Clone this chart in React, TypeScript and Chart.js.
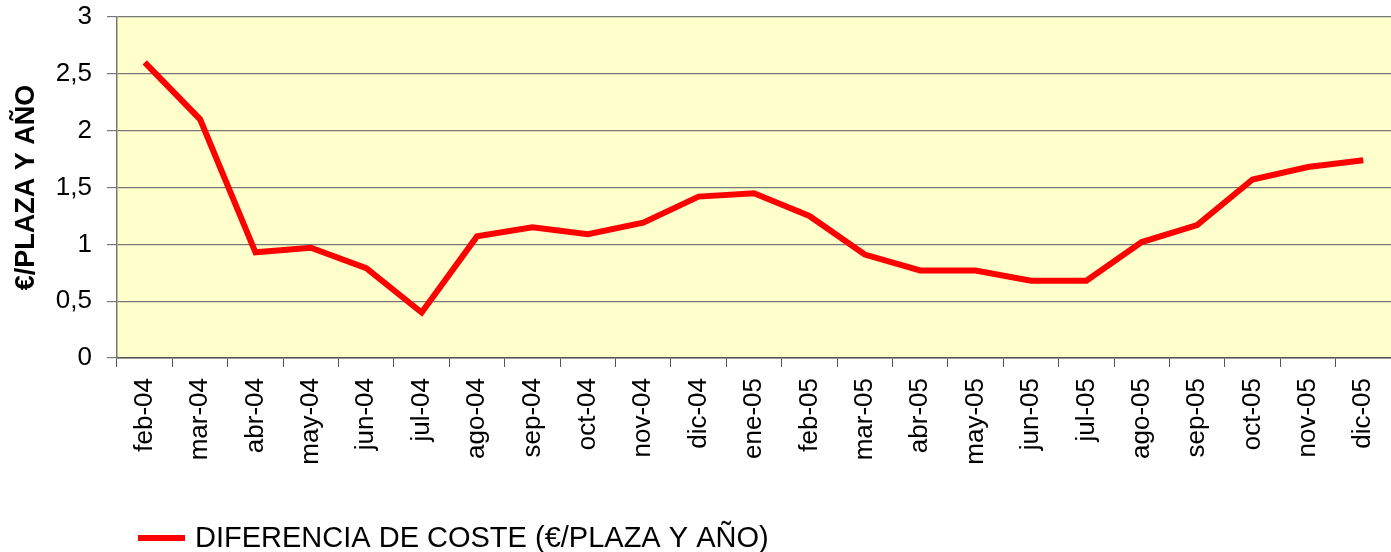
import React, { useEffect, useRef } from "react";
import { Chart, registerables } from "chart.js";

Chart.register(...registerables);

const categories = [
  "feb-04", "mar-04", "abr-04", "may-04", "jun-04", "jul-04", "ago-04", "sep-04",
  "oct-04", "nov-04", "dic-04", "ene-05", "feb-05", "mar-05", "abr-05", "may-05",
  "jun-05", "jul-05", "ago-05", "sep-05", "oct-05", "nov-05", "dic-05",
];

const costDifference = [
  2.6, 2.1, 0.93, 0.97, 0.79, 0.4, 1.07, 1.15, 1.09, 1.19, 1.42, 1.45,
  1.25, 0.91, 0.77, 0.77, 0.68, 0.68, 1.02, 1.17, 1.57, 1.68, 1.74,
];

const seriesLabel = "DIFERENCIA DE COSTE (€/PLAZA Y AÑO)";
const yAxisTitle = "€/PLAZA Y AÑO";

const FONT = "'Liberation Sans', Arial, sans-serif";

const bgPlugin = {
  id: "plotBg",
  beforeDraw(chart: any) {
    const { ctx, chartArea } = chart;
    ctx.save();
    ctx.fillStyle = "#FFFFCC";
    ctx.fillRect(chartArea.left, chartArea.top, chartArea.right - chartArea.left, chartArea.bottom - chartArea.top);
    ctx.restore();
  },
};

const legendPlugin = {
  id: "customLegend",
  afterDraw(chart: any) {
    const { ctx, chartArea } = chart;
    const y = chart.height - 14;
    const x0 = chartArea.left + 21;
    ctx.save();
    ctx.strokeStyle = "#FF0000";
    ctx.lineWidth = 6;
    ctx.beginPath();
    ctx.moveTo(x0, y);
    ctx.lineTo(x0 + 47, y);
    ctx.stroke();
    ctx.fillStyle = "#000";
    ctx.font = `29px ${FONT}`;
    ctx.textBaseline = "middle";
    ctx.textAlign = "left";
    ctx.fillText(seriesLabel, x0 + 57, y + 1);
    ctx.restore();
  },
};

export default function App() {
  const ref = useRef<HTMLCanvasElement | null>(null);

  useEffect(() => {
    document.body.style.margin = "0";
    if (!ref.current) return;
    const chart = new Chart(ref.current, {
      type: "line",
      data: {
        labels: categories,
        datasets: [
          {
            label: seriesLabel,
            data: costDifference,
            borderColor: "#FF0000",
            backgroundColor: "#FF0000",
            borderWidth: 6,
            pointRadius: 0,
            tension: 0,
            fill: false,
          },
        ],
      },
      options: {
        animation: false,
        responsive: false,
        devicePixelRatio: 1,
        layout: { padding: { top: 17, right: 0, left: 0, bottom: 74 } },
        plugins: {
          legend: { display: false },
          tooltip: { enabled: false },
        },
        scales: {
          x: {
            type: "category",
            offset: true,
            grid: {
              display: true,
              offset: true,
              drawOnChartArea: false,
              drawTicks: true,
              tickLength: 9,
              color: "#555",
            },
            border: { display: true, color: "#555", width: 1.5 },
            ticks: {
              minRotation: 90,
              maxRotation: 90,
              autoSkip: false,
              padding: 11,
              color: "#000",
              font: { family: FONT, size: 26 },
            },
            afterFit(scale: any) {
              scale.height = 120;
              scale.paddingLeft = 0;
              scale.paddingRight = 0;
            },
          },
          y: {
            min: 0,
            max: 3,
            grid: {
              color: "#777",
              tickLength: 10,
              lineWidth: 1.2,
            },
            border: { display: true, color: "#777", width: 1.5 },
            ticks: {
              stepSize: 0.5,
              padding: 15,
              color: "#000",
              font: { family: FONT, size: 26 },
              callback: (v: any) => String(v).replace(".", ","),
            },
            title: {
              display: true,
              text: yAxisTitle,
              color: "#000",
              font: { family: FONT, size: 27, weight: "bold" },
              padding: { top: 10, bottom: 0 },
            },
            afterFit(scale: any) {
              scale.width = 117;
              scale.paddingTop = 0;
              scale.paddingBottom = 0;
            },
          },
        },
      },
      plugins: [bgPlugin, legendPlugin],
    });
    return () => chart.destroy();
  }, []);

  return (
    <div style={{ position: "absolute", left: 0, top: 0, width: 1391, height: 552 }}>
      <canvas ref={ref} width={1391} height={552} />
    </div>
  );
}
